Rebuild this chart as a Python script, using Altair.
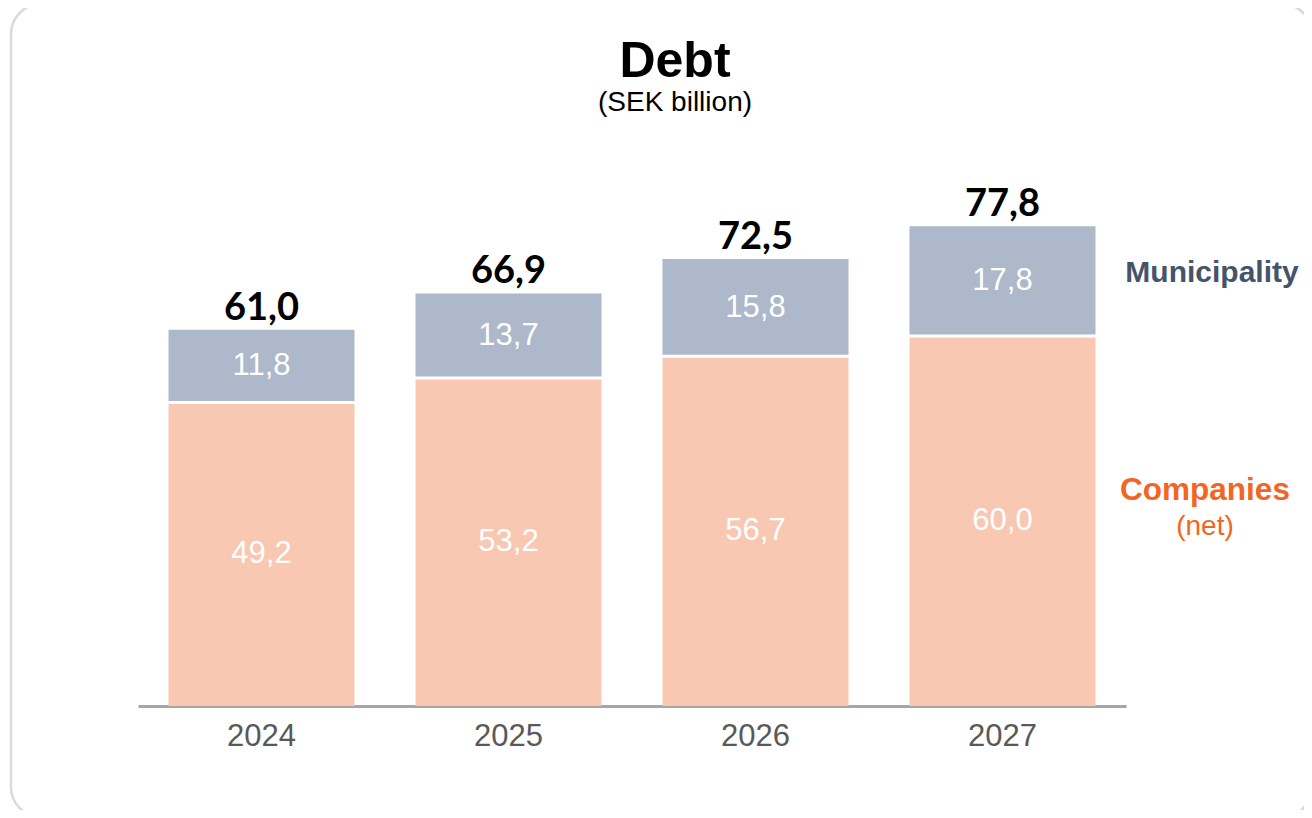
import altair as alt
import pandas as pd

# ---- data ----
years = ["2024", "2025", "2026", "2027"]
companies = [49.2, 53.2, 56.7, 60.0]
municipality = [11.8, 13.7, 15.8, 17.8]
series_names = ["Companies", "Municipality"]

title_text = "Debt"
subtitle_text = "(SEK billion)"
side_municipality = "Municipality"
side_companies = "Companies"
side_companies_sub = "(net)"

COL_MUN = "#ADB8CA"
COL_COMP = "#F8C8B2"
COL_MUN_TXT = "#44546A"
COL_COMP_TXT = "#F26522"

rows = []
for y, c, m in zip(years, companies, municipality):
    rows.append({"year": y, "series": "Companies", "value": c, "order": 0})
    rows.append({"year": y, "series": "Municipality", "value": m, "order": 1})
df = pd.DataFrame(rows)
df_comp = pd.DataFrame({"year": years, "value": companies})

W, H = 988, 555
YMAX = 90

x_scale = alt.Scale(paddingInner=0.247, paddingOuter=0.1235)
x_enc = alt.X(
    "year:N",
    sort=years,
    scale=x_scale,
    axis=alt.Axis(
        title=None,
        labelAngle=0,
        ticks=False,
        domainColor="#A6A6A6",
        domainWidth=3,
        labelColor="#595959",
        labelFont="Liberation Sans",
        labelFontSize=31,
        labelPadding=15,
        grid=False,
    ),
)
y_scale = alt.Scale(domain=[0, YMAX], nice=False, zero=True)

base = alt.Chart(df)

bars = base.mark_bar().encode(
    x=x_enc,
    y=alt.Y("sum(value):Q", stack="zero", scale=y_scale, axis=None),
    color=alt.Color(
        "series:N",
        scale=alt.Scale(domain=["Municipality", "Companies"], range=[COL_MUN, COL_COMP]),
        legend=None,
    ),
    order=alt.Order("order:Q", sort="ascending"),
)

# white separator between the two stacked segments
sep = alt.Chart(df_comp).mark_tick(color="white", thickness=3, size=192, opacity=1).encode(
    x=alt.X("year:N", sort=years, scale=x_scale),
    y=alt.Y("value:Q", scale=y_scale, axis=None),
)

seg_labels = (
    base.transform_stack(
        stack="value",
        as_=["y0", "y1"],
        groupby=["year"],
        sort=[alt.SortField("order", order="ascending")],
    )
    .transform_calculate(
        mid="(datum.y0 + datum.y1) / 2",
        lab="replace(format(datum.value, '.1f'), '.', ',')",
    )
    .mark_text(color="white", font="Liberation Sans", fontSize=31, baseline="middle")
    .encode(
        x=alt.X("year:N", sort=years),
        y=alt.Y("mid:Q", scale=y_scale, axis=None),
        text="lab:N",
    )
)

totals = (
    base.transform_aggregate(total="sum(value)", groupby=["year"])
    .transform_calculate(lab="replace(format(datum.total, '.1f'), '.', ',')")
    .mark_text(color="black", font="Lato", fontWeight="bold", fontSize=38,
               baseline="alphabetic", dy=-10)
    .encode(
        x=alt.X("year:N", sort=years),
        y=alt.Y("total:Q", scale=y_scale, axis=None),
        text="lab:N",
    )
)

title_mark = alt.Chart(pd.DataFrame({"t": [title_text]})).mark_text(
    color="black", font="Liberation Sans", fontWeight="bold", fontSize=50,
    align="center", baseline="alphabetic",
).encode(x=alt.value(537), y=alt.value(-74), text="t:N")

subtitle_mark = alt.Chart(pd.DataFrame({"t": [subtitle_text]})).mark_text(
    color="black", font="Liberation Sans", fontSize=28,
    align="center", baseline="alphabetic",
).encode(x=alt.value(537), y=alt.value(-40), text="t:N")

side1 = alt.Chart(pd.DataFrame({"t": [side_municipality]})).mark_text(
    color=COL_MUN_TXT, font="Liberation Sans", fontWeight="bold", fontSize=30,
    align="center", baseline="middle",
).encode(x=alt.value(1074), y=alt.value(122), text="t:N")

side2 = alt.Chart(pd.DataFrame({"t": [side_companies]})).mark_text(
    color=COL_COMP_TXT, font="Liberation Sans", fontWeight="bold", fontSize=31.5,
    align="center", baseline="middle",
).encode(x=alt.value(1067), y=alt.value(340), text="t:N")

side3 = alt.Chart(pd.DataFrame({"t": [side_companies_sub]})).mark_text(
    color=COL_COMP_TXT, font="Liberation Sans", fontSize=28,
    align="center", baseline="middle",
).encode(x=alt.value(1067), y=alt.value(376), text="t:N")

frame = alt.Chart(pd.DataFrame({"a": [0]})).mark_rect(
    fillOpacity=0, stroke="#DADADA", strokeWidth=2.5, cornerRadius=30,
).encode(x=alt.value(-127), x2=alt.value(1174), y=alt.value(-147), y2=alt.value(666))

chart = (
    alt.layer(frame, bars, sep, seg_labels, totals, title_mark, subtitle_mark,
              side1, side2, side3)
    .properties(
        width=W,
        height=H,
        autosize=alt.AutoSizeParams(type="none"),
        padding={"left": 130, "top": 143, "right": 178, "bottom": 104},
    )
    .configure_view(stroke=None)
)

chart.save("out.html", embed_options={"renderer": "svg", "actions": False})
